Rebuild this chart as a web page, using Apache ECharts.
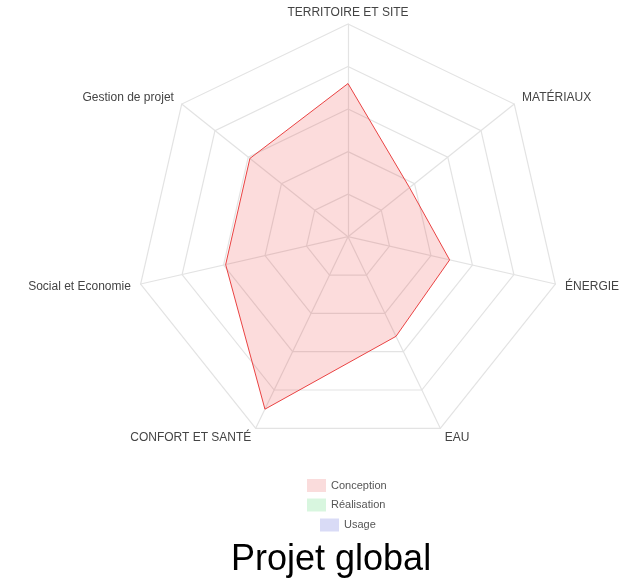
<!DOCTYPE html>
<html>
<head>
<meta charset="utf-8">
<script src="https://cdn.jsdelivr.net/npm/echarts@6/dist/echarts.min.js"></script>
<style>
  html, body { margin: 0; padding: 0; background: #fff; }
  #chart { width: 643px; height: 578px; }
</style>
</head>
<body>
<div id="chart"></div>
<script>
// Axes, listed clockwise from the top
const categories = [
  'TERRITOIRE ET SITE',
  'MATÉRIAUX',
  'ÉNERGIE',
  'EAU',
  'CONFORT ET SANTÉ',
  'Social et Economie',
  'Gestion de projet'
];
const axisMax = 100;

// Scores per phase (same order as categories)
const conception = [72, 37, 49, 52, 90, 59, 59];
const realisation = [];
const usage = [];

const seriesNames = ['Conception', 'Réalisation', 'Usage'];
const titleText = 'Projet global';

// ECharts lays indicators out counter-clockwise; reorder so they run clockwise.
function clockwise(arr) {
  return arr.length ? [arr[0]].concat(arr.slice(1).reverse()) : arr;
}

const indicators = clockwise(categories).map(n => ({ name: n, max: axisMax }));

const fills = ['rgba(235,50,50,0.17)', 'rgba(40,200,90,0.18)', 'rgba(60,70,210,0.2)'];
const lines = ['#ea4646', '#3cbf66', '#5a62d6'];
const swatches = ['#fadcdc', '#d8f6df', '#d9dbf6'];
const values = [conception, realisation, usage];

const chart = echarts.init(document.getElementById('chart'), null, { renderer: 'canvas' });

// Each legend entry is centred under the radar on its own row
const legendTops = [479, 498.5, 518.5];
const legendLefts = [307, 307, 320];

chart.setOption({
  animation: false,
  backgroundColor: '#ffffff',
  title: {
    text: titleText,
    left: 231,
    top: 542,
    padding: 0,
    textStyle: {
      fontFamily: 'Liberation Sans, Arial, sans-serif',
      fontSize: 36,
      fontWeight: 'normal',
      color: '#000'
    }
  },
  legend: seriesNames.map((name, i) => ({
    data: [{ name: name, itemStyle: { color: swatches[i], borderWidth: 0 } }],
    left: legendLefts[i],
    top: legendTops[i],
    padding: 0,
    orient: 'vertical',
    icon: 'rect',
    itemWidth: 19,
    itemHeight: 13,
    selectedMode: false,
    textStyle: {
      fontFamily: 'Liberation Sans, Arial, sans-serif',
      fontSize: 11,
      color: '#555',
      padding: [5, 0, 0, 0]
    }
  })),
  radar: {
    center: [348, 236.7],
    radius: 212.7,
    startAngle: 90,
    splitNumber: 5,
    shape: 'polygon',
    nameGap: 10,
    indicator: indicators,
    axisName: {
      color: '#444',
      fontFamily: 'Liberation Sans, Arial, sans-serif',
      fontSize: 12,
      formatter: function (name) {
        return name === categories[0] ? '{top|' + name + '}' : name;
      },
      rich: {
        top: {
          color: '#444',
          fontFamily: 'Liberation Sans, Arial, sans-serif',
          fontSize: 12,
          lineHeight: 2
        }
      }
    },
    axisLine: { lineStyle: { color: '#e3e3e3', width: 1.2 } },
    splitLine: { lineStyle: { color: '#e3e3e3', width: 1.2 } },
    splitArea: { show: false },
    axisTick: { show: false },
    axisLabel: { show: false }
  },
  series: seriesNames.map((name, i) => ({
    type: 'radar',
    name: name,
    symbol: 'none',
    color: lines[i],
    lineStyle: { color: lines[i], width: 1 },
    areaStyle: { color: fills[i], opacity: 1 },
    data: values[i].length ? [{ name: name, value: clockwise(values[i]) }] : []
  }))
});
</script>
</body>
</html>
